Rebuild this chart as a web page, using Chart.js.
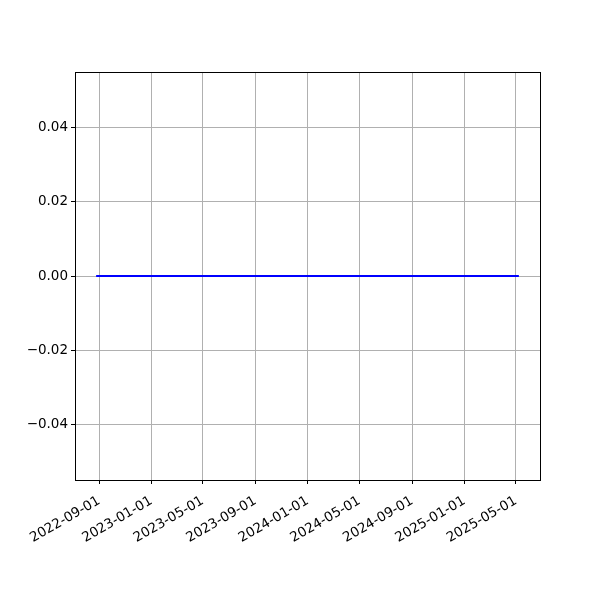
<!DOCTYPE html>
<html>
<head>
<meta charset="utf-8">
<script src="https://cdn.jsdelivr.net/npm/chart.js@4"></script>
<style>
  html, body { margin: 0; padding: 0; background: #fff; }
  #wrap { width: 600px; height: 600px; }
</style>
</head>
<body>
<div id="wrap"><canvas id="lineChart" width="600" height="600"></canvas></div>
<script>
// values
const dates = ['2022-08-25', '2023-01-01', '2023-06-01', '2023-12-01', '2024-06-01', '2024-12-01', '2025-05-08'];
const values = [0, 0, 0, 0, 0, 0, 0];
const xTickDates = ['2022-09-01', '2023-01-01', '2023-05-01', '2023-09-01', '2024-01-01',
                    '2024-05-01', '2024-09-01', '2025-01-01', '2025-05-01'];
const yTicks = [-0.04, -0.02, 0, 0.02, 0.04];

const t0 = Date.parse(dates[0]);
const t1 = Date.parse(dates[dates.length - 1]);
const pad = (t1 - t0) * 0.05;

function fmtDate(v) {
  const d = new Date(v);
  const m = String(d.getUTCMonth() + 1).padStart(2, '0');
  const day = String(d.getUTCDate()).padStart(2, '0');
  return d.getUTCFullYear() + '-' + m + '-' + day;
}

const frame = {
  id: 'frame',
  afterDraw(chart) {
    const a = chart.chartArea, c = chart.ctx;
    c.save();
    c.strokeStyle = '#000';
    c.lineWidth = 1;
    c.strokeRect(Math.round(a.left) + 0.5, Math.round(a.top) + 0.5,
                 Math.round(a.right - a.left), Math.round(a.bottom - a.top));
    c.restore();
  }
};

const ctx = document.getElementById('lineChart');
let myChart = new Chart(ctx, {
  type: 'line',
  data: {
    datasets: [{
      data: dates.map((d, i) => ({ x: Date.parse(d), y: values[i] })),
      borderColor: '#0000ff',
      borderWidth: 2,
      pointRadius: 0,
      fill: false,
      tension: 0
    }]
  },
  options: {
    responsive: false,
    animation: false,
    layout: { padding: { left: 0, top: 72, right: 60, bottom: 0 } },
    plugins: { legend: { display: false }, tooltip: { enabled: false } },
    scales: {
      x: {
        type: 'linear',
        min: t0 - pad,
        max: t1 + pad,
        afterBuildTicks: s => { s.ticks = xTickDates.map(d => ({ value: Date.parse(d) })); },
        afterFit: s => { s.height = 120; },
        grid: { color: '#b0b0b0', lineWidth: 1, tickColor: '#000', tickLength: 4 },
        border: { display: true, color: '#000' },
        ticks: {
          color: '#000',
          font: { family: 'DejaVu Sans', size: 13.5 },
          minRotation: 30,
          maxRotation: 30,
          autoSkip: false,
          padding: 9,
          callback: v => fmtDate(v)
        }
      },
      y: {
        min: -0.055,
        max: 0.055,
        afterBuildTicks: s => { s.ticks = yTicks.map(v => ({ value: v })); },
        afterFit: s => { s.width = 75; },
        grid: { color: '#b0b0b0', lineWidth: 1, tickColor: '#000', tickLength: 4 },
        border: { display: true, color: '#000' },
        ticks: {
          color: '#000',
          font: { family: 'DejaVu Sans', size: 13.5 },
          padding: 3,
          callback: v => (v < 0 ? '\u2212' : '') + Math.abs(v).toFixed(2)
        }
      }
    }
  },
  plugins: [frame]
});
</script>
</body>
</html>
